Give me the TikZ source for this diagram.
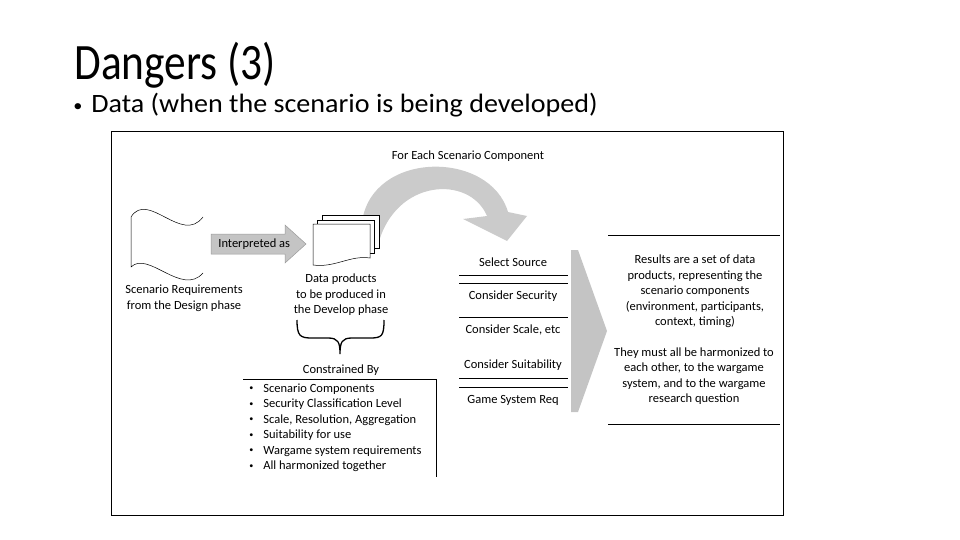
\documentclass[tikz,border=0pt]{standalone}
\usepackage{fontspec}
\setmainfont{Carlito}
\newfontfamily\titlefont[FakeStretch=0.85]{Carlito}
\newfontfamily\bodyfont[FakeStretch=1.06]{Carlito}
\usetikzlibrary{positioning}
\definecolor{arrowGray}{HTML}{C4C4C4}
\definecolor{edgeGray}{HTML}{9A9A9A}
\definecolor{arcGray}{HTML}{CBCBCB}
\newcommand{\smallbul}{\raisebox{0.1ex}{\scalebox{0.65}{\textbullet}}}

\begin{document}
\begin{tikzpicture}[x=1pt, y=-1pt, line width=0.7pt,
    lbl/.style={font=\fontsize{12.5}{15.5}\selectfont, align=center, inner sep=0pt},
    item/.style={font=\fontsize{12.5}{15}\selectfont, anchor=west, inner sep=0pt}]
        \useasboundingbox (0,0) rectangle (960,540);
        % Slide heading
        \node[anchor=base west, inner sep=0pt, font=\titlefont\fontsize{51}{55}\selectfont] (title) at (74,80) {Dangers (3)};
        \node[anchor=base west, inner sep=0pt, font=\bodyfont\fontsize{26.5}{30}\selectfont] (bulmark) at (73,113) {\smallbul};
        \node[anchor=base west, inner sep=0pt, font=\bodyfont\fontsize{26.5}{30}\selectfont] (bullet) at (91,113) {Data (when the scenario is being developed)};
        % Frame of the figure
        \draw[line width=0.6pt] (111,131) rectangle (783,515);
        % Curved arrow
        \fill[arcGray] (362,222) .. controls (372,150) and (490,150) .. (508,212)
          -- (527,216) -- (507,241) -- (463,219) -- (487,216)
          .. controls (470,175) and (395,178) .. (378,245) -- cycle;
        \node[lbl] (each) at (468,156) {For Each Scenario Component};
        % Scenario requirements document
        \draw[line width=0.5pt] (203,217) .. controls (182,245) and (148,190) .. (131,217)
          -- (131,267) .. controls (148,250) and (182,297) .. (203,273);
        \node[lbl] (req) at (184,298.5) {Scenario Requirements\\from the Design phase};
        % Interpreted as
        \draw[fill=arrowGray, draw=edgeGray, line width=0.5pt] (211,234) -- (285,234) -- (285,225)
          -- (306,244) -- (285,263) -- (285,254) -- (211,254) -- cycle;
        \node[lbl, anchor=west] (interp) at (218,244) {Interpreted as};
        % Stack of data products
        \draw[fill=white, line width=0.5pt] (322,215) rectangle (379,248);
        \draw[fill=white, line width=0.5pt] (317,220) rectangle (374,253);
        \draw[fill=white, line width=0.5pt] (370,224) -- (313,224) -- (313,265)
          .. controls (335,268) and (350,255) .. (370,258) -- cycle;
        \node[lbl] (prod) at (341,295) {Data products\\to be produced in\\the Develop phase};
        % Brace
        \draw[line width=1.3pt] (297,320) .. controls (297,336) and (300,338) .. (312,338) -- (328,338)
          .. controls (338,338) and (340,342) .. (340,354)
          .. controls (340,342) and (342,338) .. (352,338) -- (370,338)
          .. controls (382,338) and (384,336) .. (384,320);
        \node[lbl] (constr) at (341,370) {Constrained By};
        \draw[line width=0.6pt] (243,379) -- (436,379) -- (436,477);
        \foreach \t [count=\i] in {Scenario Components, Security Classification Level,
            {Scale, Resolution, Aggregation}, Suitability for use,
            Wargame system requirements, All harmonized together} {
          \node[item] (b\i) at (249,373.5+15.5*\i) {\smallbul};
          \node[item] (c\i) at (263,373.5+15.5*\i) {\t};
        }
        % Steps for each component
        \foreach \y in {275,283,317,378,387} {
          \draw[line width=0.6pt] (459,\y) -- (568,\y);
        }
        \node[lbl] (s1) at (513,262) {Select Source};
        \node[lbl] (s2) at (513,296) {Consider Security};
        \node[lbl] (s3) at (513,330) {Consider Scale, etc};
        \node[lbl] (s4) at (513,365) {Consider Suitability};
        \node[lbl] (s5) at (513,400) {Game System Req};
        % Big arrow to results
        \fill[arrowGray] (571,250) -- (578,250) -- (607,331) -- (578,412) -- (571,412) -- cycle;
        % Results
        \draw[line width=0.6pt] (608,235) -- (780,235);
        \draw[line width=0.6pt] (608,424) -- (780,424);
        \node[lbl] (res) at (695,291.5) {Results are a set of data\\products, representing the\\scenario components\\(environment, participants,\\context, timing)};
        \node[lbl] (harm) at (694,376) {They must all be harmonized to\\each other, to the wargame\\system, and to the wargame\\research question};
      \end{tikzpicture}
\end{document}
